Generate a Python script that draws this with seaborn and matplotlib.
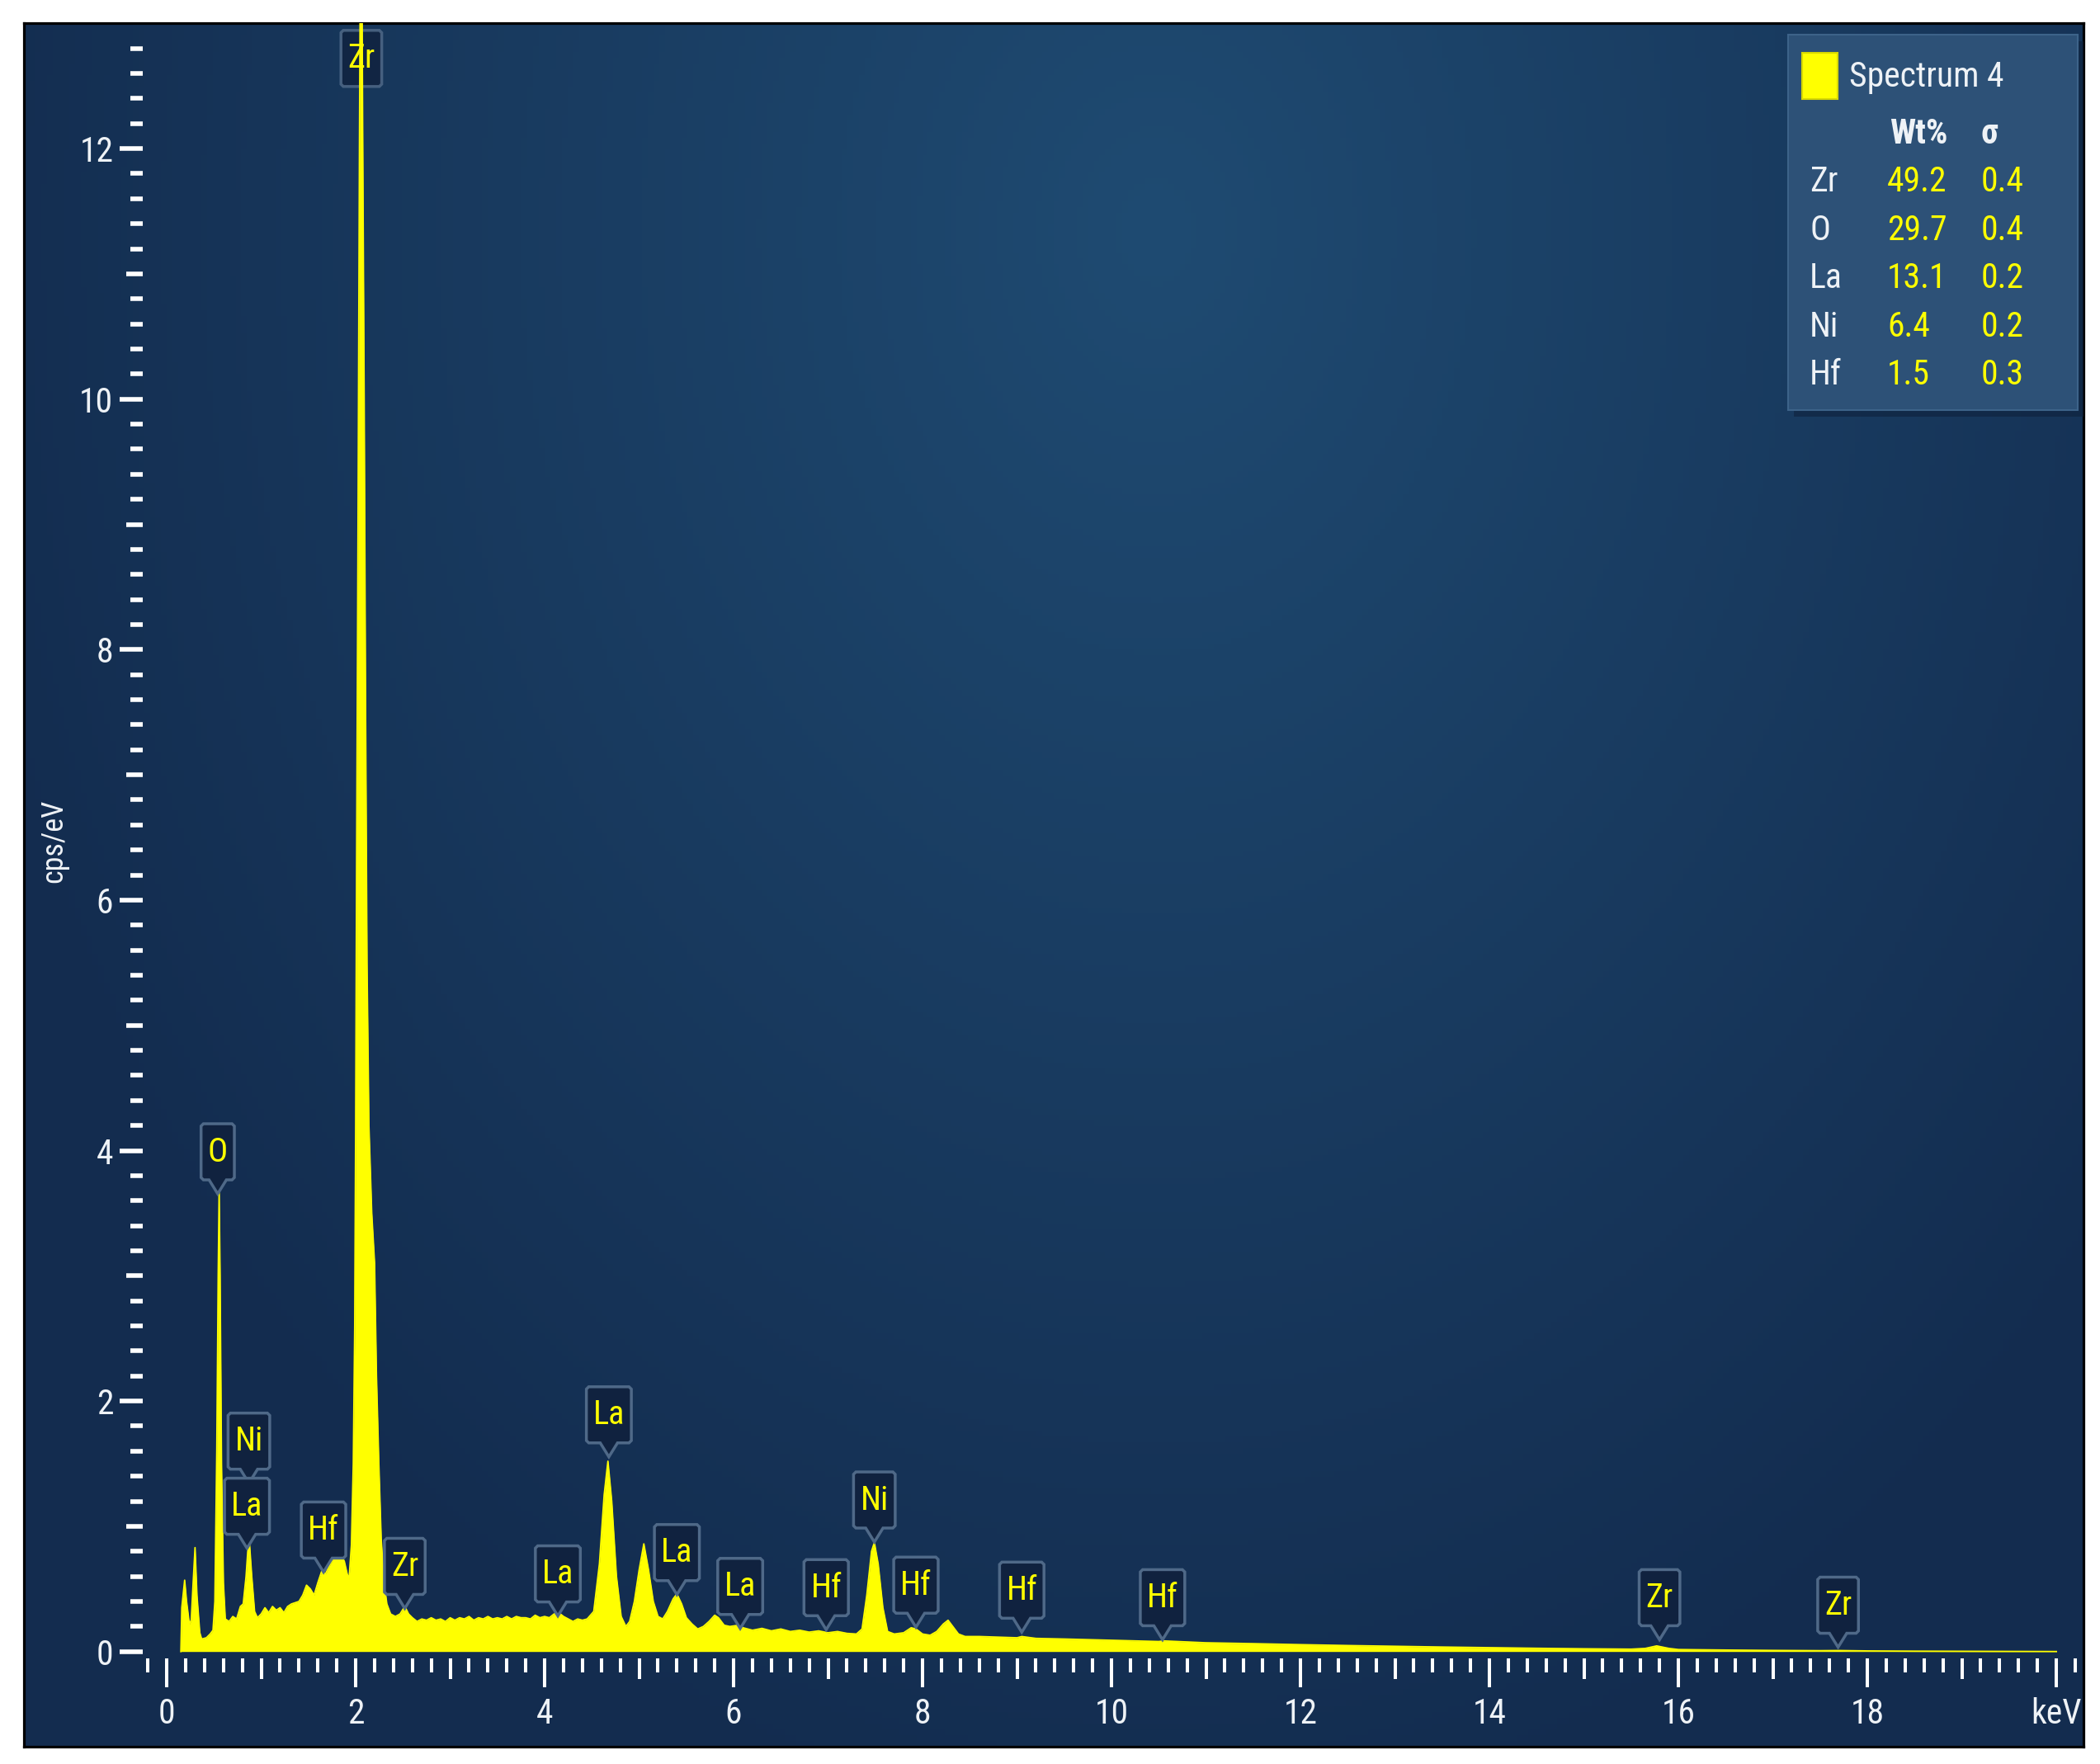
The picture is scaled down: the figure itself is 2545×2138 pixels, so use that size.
import numpy as np
import pandas as pd
import matplotlib
matplotlib.use("Agg")
import matplotlib.pyplot as plt
import seaborn as sns
from matplotlib import font_manager
from matplotlib.patches import FancyBboxPatch, Rectangle
from matplotlib.path import Path

# EDS spectrum (keV, cps/eV)
energy_kev = [
    0.15, 0.16, 0.19, 0.21, 0.24, 0.26, 0.28, 0.30, 0.32, 0.35, 0.37, 0.42, 0.46, 0.49,
    0.51, 0.53, 0.545, 0.555, 0.565, 0.58, 0.60, 0.62, 0.66, 0.70, 0.74, 0.78, 0.81,
    0.84, 0.87, 0.90, 0.93, 0.96, 1.00, 1.04, 1.08, 1.12, 1.16, 1.20, 1.24, 1.28, 1.32,
    1.36, 1.40, 1.44, 1.48, 1.52, 1.56, 1.60, 1.64, 1.68, 1.72, 1.76, 1.80, 1.84, 1.88,
    1.91, 1.93, 1.955, 1.975, 1.99, 2.00, 2.01, 2.025, 2.04, 2.05, 2.065, 2.075, 2.09,
    2.105, 2.12, 2.14, 2.17, 2.20, 2.22, 2.245, 2.27, 2.30, 2.33, 2.37, 2.42, 2.47,
    2.52, 2.56,
    2.60, 2.65, 2.70, 2.75, 2.80, 2.85, 2.90, 2.95, 3.00, 3.05, 3.10, 3.15, 3.20, 3.25,
    3.30, 3.35, 3.40, 3.45, 3.50, 3.55, 3.60, 3.65, 3.70, 3.75, 3.80, 3.85, 3.90, 3.95,
    4.00, 4.05, 4.10, 4.15, 4.20, 4.25, 4.30, 4.35, 4.40, 4.45,
    4.52, 4.58, 4.63, 4.67, 4.71, 4.76, 4.81,
    4.86, 4.9, 4.95, 5.0, 5.05, 5.1, 5.15, 5.2, 5.25, 5.3, 5.36, 5.40, 5.45, 5.5, 5.56,
    5.62, 5.68, 5.74, 5.8, 5.84, 5.9, 5.96, 6.05, 6.1, 6.2, 6.3, 6.4, 6.5, 6.6, 6.7,
    6.8, 6.9, 7.0, 7.1, 7.2, 7.3, 7.36, 7.41, 7.46, 7.49, 7.53, 7.58, 7.63, 7.7, 7.8,
    7.88, 7.93, 8.0, 8.08, 8.15, 8.22, 8.27, 8.32, 8.38, 8.45, 8.6, 8.8, 9.0, 9.05,
    9.2, 9.5, 10.0, 10.5, 10.55, 11.0, 11.5, 12.0, 12.5, 13.0, 13.5, 14.0, 14.5, 15.0,
    15.5, 15.65, 15.77, 15.9, 16.0, 16.5, 17.0, 17.5, 17.7, 18.0, 18.5, 19.0, 19.5, 20.0,
]
counts_cps = [
    0.0, 0.35, 0.57, 0.40, 0.22, 0.25, 0.55, 0.83, 0.45, 0.15, 0.10, 0.11, 0.14, 0.17,
    0.40, 1.6, 3.0, 3.68, 3.0, 1.5, 0.55, 0.26, 0.24, 0.28, 0.26, 0.36, 0.38,
    0.60, 0.93, 0.60, 0.32, 0.27, 0.30, 0.35, 0.31, 0.36, 0.33, 0.35, 0.31, 0.36, 0.38,
    0.39, 0.40, 0.45, 0.53, 0.50, 0.45, 0.55, 0.64, 0.62, 0.68, 0.74, 0.86, 0.78, 0.72,
    0.62, 0.58, 0.85, 1.5, 2.6, 4.2, 6.3, 9.0, 12.0, 13.6, 13.6, 12.0, 10.0,
    7.5, 5.5, 4.2, 3.5, 3.1, 2.2, 1.5, 0.9, 0.55, 0.38, 0.30, 0.28, 0.30,
    0.36, 0.30,
    0.27, 0.24, 0.26, 0.25, 0.27, 0.25, 0.26, 0.24, 0.27, 0.25, 0.27, 0.26, 0.28, 0.25,
    0.27, 0.26, 0.28, 0.26, 0.27, 0.26, 0.28, 0.26, 0.28, 0.27, 0.27, 0.26, 0.29, 0.27,
    0.28, 0.27, 0.30, 0.31, 0.28, 0.26, 0.24, 0.26, 0.25, 0.26,
    0.32, 0.70, 1.25, 1.52, 1.20, 0.60, 0.28,
    0.20, 0.24, 0.40, 0.65, 0.86, 0.65, 0.40, 0.28, 0.26, 0.32, 0.42, 0.46, 0.38, 0.27, 0.22,
    0.18, 0.20, 0.24, 0.29, 0.27, 0.21, 0.20, 0.21, 0.19, 0.17, 0.185, 0.165, 0.18, 0.16, 0.17,
    0.155, 0.165, 0.15, 0.16, 0.145, 0.14, 0.18, 0.45, 0.80, 0.87, 0.70, 0.35, 0.16, 0.14, 0.15,
    0.19, 0.18, 0.14, 0.13, 0.16, 0.22, 0.25, 0.20, 0.14, 0.12, 0.12, 0.115, 0.11, 0.12,
    0.105, 0.10, 0.09, 0.08, 0.085, 0.07, 0.063, 0.055, 0.048, 0.042, 0.036, 0.031, 0.026, 0.022,
    0.019, 0.025, 0.045, 0.025, 0.016, 0.012, 0.009, 0.007, 0.008, 0.005, 0.003, 0.002, 0.001, 0.0,
]

# peak markers: element, energy (keV), label height (cps/eV)
peak_names = ["Zr", "O", "Ni", "La", "Hf", "Zr", "La", "La", "La", "La", "Hf", "Ni",
              "Hf", "Hf", "Hf", "Zr", "Zr"]
peak_kev = [2.06, 0.54, 0.87, 0.85, 1.66, 2.52, 4.14, 4.68, 5.40, 6.07, 6.98, 7.49,
            7.93, 9.05, 10.54, 15.80, 17.69]
label_cps = [12.72, 3.99, 1.68, 1.16, 0.97, 0.68, 0.62, 1.89, 0.79, 0.52, 0.51, 1.21,
             0.53, 0.49, 0.43, 0.43, 0.37]

# quantification table
table_elements = ["Zr", "O", "La", "Ni", "Hf"]
table_wt = [49.2, 29.7, 13.1, 6.4, 1.5]
table_sigma = [0.4, 0.4, 0.2, 0.2, 0.3]

x_major = list(range(0, 21, 2))
x_mid = list(range(1, 20, 2))
x_minor = [round(i * 0.2, 1) for i in range(-1, 102) if i % 5 != 0]
y_major = list(range(0, 13, 2))
y_mid = list(range(1, 12, 2))
y_minor = [round(i * 0.2, 1) for i in range(1, 65) if i % 5 != 0]


# pick a narrow font if there is one
def pick_font():
    fl = font_manager.fontManager.ttflist
    names = {f.name for f in fl}
    for n in ["Liberation Sans Narrow", "Roboto Condensed", "Open Sans Condensed",
              "Noto Sans Condensed", "DejaVu Sans Condensed", "Arial Narrow"]:
        if n in names:
            return n, "normal"
    for fam in ["Noto Sans", "Open Sans", "Roboto", "DejaVu Sans"]:
        for f in fl:
            if f.name == fam and str(f.stretch) in ("condensed", "semi-condensed",
                                                   "extra-condensed"):
                return fam, str(f.stretch)
    return "Roboto", "normal"


main_font, stretch = pick_font()
plt.rcParams["font.family"] = [main_font, "DejaVu Sans"]
plt.rcParams["font.stretch"] = stretch

YELLOW = "#ffff00"
TXT = "#eef2f6"
BOX_FC = "#10223f"
BOX_EC = "#4f6988"


def callout(x0, y0, width, height, mutation_size, notch=True):
    m = mutation_size
    px, py = 0.2 * m, 0.36 * m
    l, r = x0 - px, x0 + width + px
    b, t = y0 - py, y0 + height + py
    cx = (l + r) / 2
    hw, dp, c = 0.26 * m, 0.42 * m, 0.07 * m
    verts = [(l + c, b)]
    if notch:
        verts += [(cx - hw, b), (cx, b - dp), (cx + hw, b)]
    verts += [(r - c, b), (r, b + c), (r, t - c), (r - c, t), (l + c, t), (l, t - c),
              (l, b + c), (l + c, b)]
    codes = [Path.MOVETO] + [Path.LINETO] * (len(verts) - 2) + [Path.CLOSEPOLY]
    return Path(verts, codes)


def plain_box(x0, y0, width, height, mutation_size):
    return callout(x0, y0, width, height, mutation_size, notch=False)


W, H = 2545, 2138
fig = plt.figure(figsize=(W / 100, H / 100), dpi=100)
fig.patch.set_facecolor("white")

# gradient backdrop inside the black frame
bg = fig.add_axes([29 / W, 1 - 2117 / H, 2496 / W, 2089 / H])
yy, xx = np.mgrid[0:1:300j, 0:1:360j]
d = np.clip(np.sqrt(((xx - 0.55) / 0.6) ** 2 + ((yy - 0.12) / 0.95) ** 2), 0, 1)
c0 = np.array([0x1f, 0x4b, 0x72]) / 255
c1 = np.array([0x13, 0x2c, 0x4f]) / 255
img = c0 + (c1 - c0) * d[..., None]
bg.imshow(img, aspect="auto", extent=[0, 1, 0, 1], origin="upper")
bg.set_xticks([])
bg.set_yticks([])
for s in bg.spines.values():
    s.set_color("black")
    s.set_linewidth(2.3)

# main axes
ax = fig.add_axes([173.4 / W, 1 - 2010.05 / H, (2523 - 173.4) / W, (2010.05 - 28.3) / H])
ax.patch.set_alpha(0)
spectrum = pd.DataFrame({"keV": energy_kev, "cps": counts_cps})
ax.fill_between(spectrum["keV"], 0, spectrum["cps"], color=YELLOW, lw=0, zorder=3)
sns.lineplot(data=spectrum, x="keV", y="cps", ax=ax, color=YELLOW, lw=1.3, zorder=3)
ax.set_xlabel("")
ax.set_ylabel("")
ax.set_xlim(-0.25, 20.27)
ax.set_ylim(-0.055, 13.0)
for s in ax.spines.values():
    s.set_visible(False)

ax.set_xticks(x_major)
ax.set_xticklabels([str(v) if v < 20 else "keV" for v in x_major])
ax.set_xticks(x_minor, minor=True)
ax.set_yticks(y_major)
ax.set_yticklabels([str(v) for v in y_major])
ax.set_yticks(y_minor, minor=True)
ax.tick_params(axis="x", which="major", length=25, width=2.9, color="white",
               labelcolor=TXT, labelsize=30, pad=9)
ax.tick_params(axis="x", which="minor", length=12, width=2.9, color="white")
ax.tick_params(axis="y", which="major", length=20, width=4, color="white",
               labelcolor=TXT, labelsize=30, pad=6)
ax.tick_params(axis="y", which="minor", length=10.8, width=4, color="white")

secx = ax.secondary_xaxis("bottom")
secx.set_xticks(x_mid)
secx.tick_params(length=18, width=2.9, color="white", labelbottom=False)
for s in secx.spines.values():
    s.set_visible(False)
secy = ax.secondary_yaxis("left")
secy.set_yticks(y_mid)
secy.tick_params(length=14.4, width=4, color="white", labelleft=False)
for s in secy.spines.values():
    s.set_visible(False)

# element markers
for name, xk, yc in zip(peak_names, peak_kev, label_cps):
    if yc > 10:
        ax.text(xk, yc, name, ha="center", va="center", color=YELLOW, fontsize=29,
                bbox=dict(boxstyle=plain_box, fc=BOX_FC, ec=BOX_EC, lw=2.5, alpha=0.85),
                zorder=2)
    else:
        ax.text(xk, yc, name, ha="center", va="center", color=YELLOW, fontsize=29,
                bbox=dict(boxstyle=callout, fc=BOX_FC, ec=BOX_EC, lw=2.5), zorder=5)

fig.text(65 / W, 1 - 1019 / H, "cps/eV", rotation=90, ha="center", va="center",
         color=TXT, fontsize=26)

# legend / quantification panel
fig.add_artist(Rectangle((2174 / W, 1 - 505 / H), 351 / W, 455 / H, transform=fig.transFigure,
                         fc="#0e213c", ec="none", alpha=0.6, zorder=9))
fig.add_artist(FancyBboxPatch((2167 / W, 1 - 497 / H), 351 / W, 455 / H,
                              boxstyle="square,pad=0", transform=fig.transFigure,
                              fc="#2d5177", ec="#3d6389", lw=1.5, zorder=10))
fig.add_artist(Rectangle((2184 / W, 1 - 120 / H), 43 / W, 56 / H, transform=fig.transFigure,
                         fc=YELLOW, ec="#d8d800", lw=1.5, zorder=11))
fig.text(2241 / W, 1 - 94 / H, "Spectrum 4", ha="left", va="center", color=TXT,
         fontsize=30, zorder=12)
fig.text(2325 / W, 1 - 163 / H, "Wt%", ha="center", va="center", color=TXT,
         fontsize=30, fontweight="bold", zorder=12)
fig.text(2411 / W, 1 - 163 / H, "σ", ha="center", va="center", color=TXT,
         fontsize=30, fontweight="bold", zorder=12)
for i, (el, wt, sg) in enumerate(zip(table_elements, table_wt, table_sigma)):
    yrow = 1 - (220.5 + i * 58.6) / H
    fig.text(2193 / W, yrow, el, ha="left", va="center", color=TXT, fontsize=30, zorder=12)
    fig.text(2287 / W, yrow, f"{wt:.1f}", ha="left", va="center", color=YELLOW,
             fontsize=30, zorder=12)
    fig.text(2401 / W, yrow, f"{sg:.1f}", ha="left", va="center", color=YELLOW,
             fontsize=30, zorder=12)

fig.savefig("out.png", dpi=100)
